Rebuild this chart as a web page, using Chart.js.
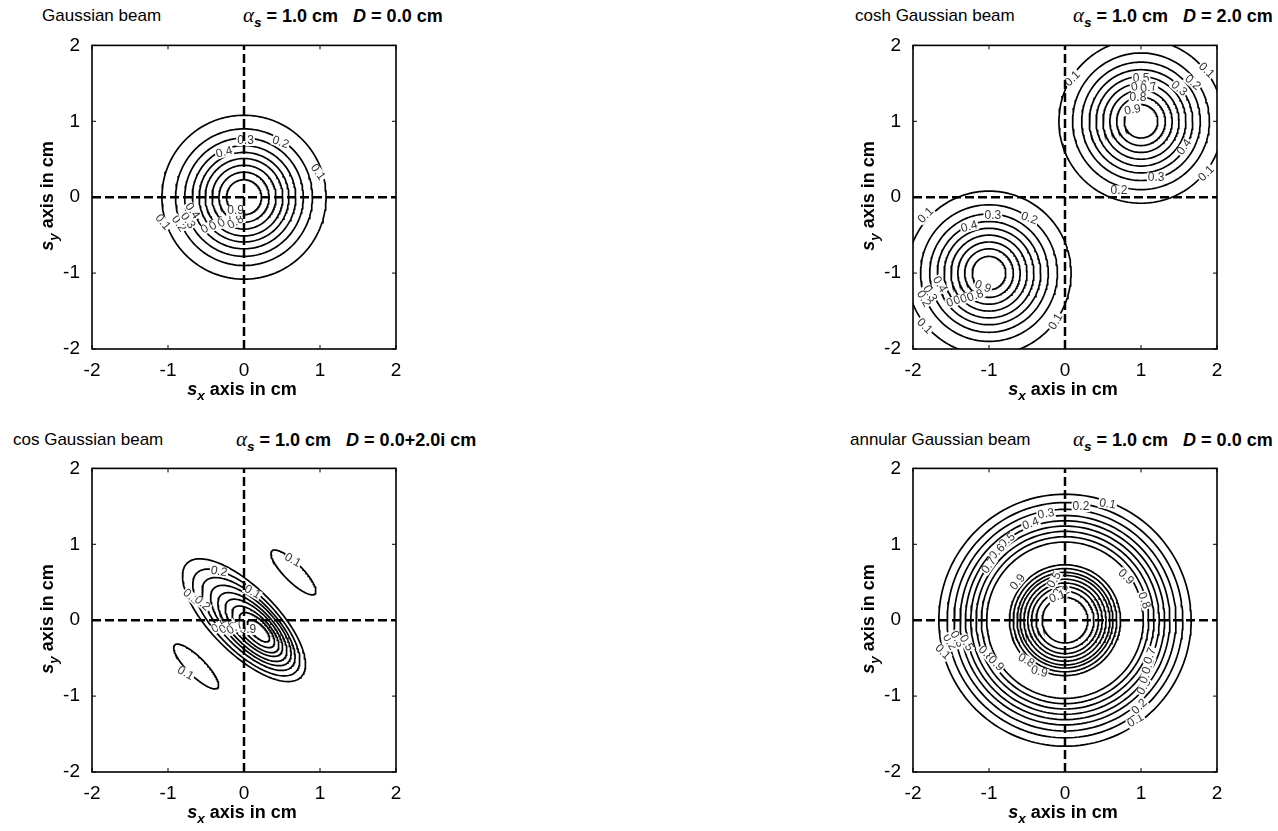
<!DOCTYPE html>
<html>
<head>
<meta charset="utf-8">
<script src="https://cdn.jsdelivr.net/npm/chart.js@4"></script>
<style>
  body { margin: 0; background: #fff; width: 1278px; height: 831px; position: relative; overflow: hidden;
         font-family: "Liberation Sans", Arial, sans-serif; color: #000; }
  canvas { position: absolute; }
  .name { position: absolute; font-size: 17px; line-height: 20px; white-space: nowrap; }
  .par { position: absolute; font-size: 18px; line-height: 20px; font-weight: bold; white-space: nowrap; }
  .par .al { font-family: "Liberation Serif", serif; font-style: italic; font-weight: normal; font-size: 21px; }
  .xlab { position: absolute; width: 304px; text-align: center; font-size: 18px; font-weight: bold; line-height: 20px; white-space: nowrap; }
  .ylab { position: absolute; width: 304px; text-align: center; font-size: 18px; font-weight: bold; line-height: 20px;
          white-space: nowrap; transform: rotate(-90deg); }
  sub { font-size: 75%; vertical-align: -5px; line-height: 0; }
</style>
</head>
<body>

<div class="name" style="left:42px;top:6px">Gaussian beam</div>
<div class="par" style="left:243px;top:5px"><span class="al">α</span><sub><i>s</i></sub> = 1.0 cm &nbsp;&nbsp;<i>D</i> = 0.0 cm</div>
<div class="name" style="left:855px;top:6px">cosh Gaussian beam</div>
<div class="par" style="left:1073px;top:5px"><span class="al">α</span><sub><i>s</i></sub> = 1.0 cm &nbsp;&nbsp;<i>D</i> = 2.0 cm</div>
<div class="name" style="left:13px;top:430px">cos Gaussian beam</div>
<div class="par" style="left:236px;top:429px"><span class="al">α</span><sub><i>s</i></sub> = 1.0 cm &nbsp;&nbsp;<i>D</i> = 0.0+2.0i cm</div>
<div class="name" style="left:850px;top:430px">annular Gaussian beam</div>
<div class="par" style="left:1073px;top:429px"><span class="al">α</span><sub><i>s</i></sub> = 1.0 cm &nbsp;&nbsp;<i>D</i> = 0.0 cm</div>

<canvas id="c1" width="380" height="360" style="left:40px;top:30px"></canvas>
<canvas id="c2" width="380" height="360" style="left:861px;top:30px"></canvas>
<canvas id="c3" width="380" height="360" style="left:40px;top:453px"></canvas>
<canvas id="c4" width="380" height="360" style="left:861px;top:453px"></canvas>

<div class="xlab" style="left:90px;top:379px"><i>s</i><sub><i>x</i></sub> axis in cm</div>
<div class="xlab" style="left:911px;top:379px"><i>s</i><sub><i>x</i></sub> axis in cm</div>
<div class="xlab" style="left:90px;top:802px"><i>s</i><sub><i>x</i></sub> axis in cm</div>
<div class="xlab" style="left:911px;top:802px"><i>s</i><sub><i>x</i></sub> axis in cm</div>
<div class="ylab" style="left:-105px;top:186px"><i>s</i><sub><i>y</i></sub> axis in cm</div>
<div class="ylab" style="left:716px;top:186px"><i>s</i><sub><i>y</i></sub> axis in cm</div>
<div class="ylab" style="left:-105px;top:609px"><i>s</i><sub><i>y</i></sub> axis in cm</div>
<div class="ylab" style="left:716px;top:609px"><i>s</i><sub><i>y</i></sub> axis in cm</div>

<script>
const axisRange = [-2, 2]
const axisTicks = [-2, -1, 0, 1, 2]
const zeroLine = [-2, 2]
const levels = ['0.1', '0.2', '0.3', '0.4', '0.5', '0.6', '0.7', '0.8', '0.9']

// Gaussian beam, circles round the origin (radius per level 0.1 .. 0.9)
const gaussRadii = [1.08, 0.90, 0.78, 0.68, 0.59, 0.51, 0.42, 0.33, 0.23]

// cosh Gaussian, two lobes
const coshCentresX = [1, -1]
const coshCentresY = [1, -1]
const coshRadii = [1.08, 0.90, 0.78, 0.68, 0.59, 0.50, 0.41, 0.32, 0.22]

// cos Gaussian, main lobe ellipses tilted -45 deg
const cosCx = [0.00, 0.03, 0.06, 0.09, 0.11, 0.13, 0.15, 0.17, 0.19]
const cosCy = [0.00, -0.03, -0.05, -0.07, -0.09, -0.10, -0.12, -0.13, -0.14]
const cosA = [1.06, 0.92, 0.80, 0.69, 0.59, 0.49, 0.40, 0.30, 0.19]
const cosB = [0.43, 0.38, 0.33, 0.29, 0.25, 0.21, 0.17, 0.13, 0.08]
// cos Gaussian, the two small 0.1 side lobes
const cosSideX = [0.65, -0.63]
const cosSideY = [0.63, -0.61]
const cosSideA = [0.40, 0.40]
const cosSideB = [0.12, 0.12]

// annular Gaussian, outer and inner rings (level 0.1 .. 0.9)
const annOuterRadii = [1.66, 1.55, 1.46, 1.38, 1.31, 1.24, 1.17, 1.10, 1.03]
const annInnerRadii = [0.30, 0.38, 0.44, 0.49, 0.54, 0.59, 0.63, 0.68, 0.73]

// contour labels: text, x, y, angle (deg)
const gaussLabels = [
    ['0.3', 0.02, 0.74, 0], ['0.2', 0.48, 0.72, 20], ['0.4', -0.26, 0.59, -15], ['0.1', 0.97, 0.33, 55],
    ['0.1', -1.07, -0.33, 50], ['0.2', -0.86, -0.35, 55], ['0.3', -0.74, -0.31, 55], ['0.4', -0.68, -0.18, 55],
    ['0.5', -0.46, -0.39, -30], ['0.6', -0.35, -0.35, -30], ['0.7', -0.24, -0.31, -30], ['0.8', -0.11, -0.33, -30],
    ['0.9', -0.11, -0.18, 0]
]
const coshLabels = [
    ['0.1', 0.10, 1.56, -45], ['0.1', 1.86, 1.67, 45], ['0.2', 1.68, 1.51, 40], ['0.3', 1.50, 1.43, 40],
    ['0.5', 1.00, 1.56, 0], ['0.6', 0.98, 1.46, -10], ['0.7', 1.10, 1.44, -10], ['0.8', 0.96, 1.31, 0],
    ['0.9', 0.89, 1.15, -10], ['0.4', 1.57, 0.66, -55], ['0.3', 1.20, 0.26, 0], ['0.2', 0.71, 0.09, 0],
    ['0.1', 1.86, 0.31, -45],
    ['0.3', -0.95, -0.24, 0], ['0.2', -0.47, -0.28, 20], ['0.1', -1.83, -0.24, -45], ['0.4', -1.26, -0.39, -15],
    ['0.9', -1.08, -1.18, 20], ['0.5', -1.45, -1.37, -20], ['0.6', -1.36, -1.34, -20], ['0.7', -1.27, -1.32, -20],
    ['0.8', -1.18, -1.30, -20], ['0.4', -1.65, -1.15, 60], ['0.3', -1.78, -1.27, 60], ['0.2', -1.86, -1.34, 60],
    ['0.1', -1.85, -1.70, 45], ['0.1', -0.12, -1.64, -60]
]
const cosLabels = [
    ['0.1', 0.64, 0.79, 30], ['0.1', -0.77, -0.70, 30], ['0.2', -0.33, 0.64, 10], ['0.1', 0.11, 0.37, 30],
    ['0.1', -0.70, 0.31, 40], ['0.2', -0.55, 0.22, 40], ['0.9', 0.05, -0.13, 0],
    ['0.5', -0.32, -0.08, -30], ['0.6', -0.22, -0.09, -30], ['0.7', -0.12, -0.10, -30]
]
const annLabels = [
    ['0.1', 0.56, 1.53, 10], ['0.2', 0.21, 1.49, 0], ['0.3', -0.25, 1.40, -10], ['0.4', -0.45, 1.27, -20],
    ['0.5', -0.76, 1.05, -40], ['0.6', -0.89, 0.90, -45], ['0.7', -1.00, 0.72, -55],
    ['0.9', 0.80, 0.57, 45], ['0.8', 1.04, 0.26, 70], ['0.9', -0.62, 0.50, -50],
    ['0.5', -0.14, 0.53, -60], ['0.2', -0.05, 0.37, -20], ['0.1', -0.10, 0.31, -20],
    ['0.1', -1.61, -0.42, 45], ['0.2', -1.52, -0.29, 60], ['0.3', -1.42, -0.25, 60], ['0.5', -1.30, -0.30, 60],
    ['0.8', -1.04, -0.44, 45], ['0.9', -0.91, -0.57, 45], ['0.8', -0.51, -0.53, 30], ['0.9', -0.34, -0.68, 15],
    ['0.1', 0.93, -1.32, -30], ['0.2', 0.98, -1.14, -45], ['0.3', 1.04, -0.88, -60], ['0.4', 1.07, -0.73, -65],
    ['0.5', 1.10, -0.60, -70], ['0.7', 1.12, -0.47, -70]
]

function ellipse(cx, cy, a, b, rot) {
    const pts = []
    const r = rot * Math.PI / 180
    for (let i = 0; i <= 160; i++) {
        const t = i / 160 * 2 * Math.PI
        const u = a * Math.cos(t), v = b * Math.sin(t)
        pts.push({ x: cx + u * Math.cos(r) - v * Math.sin(r), y: cy + u * Math.sin(r) + v * Math.cos(r) })
    }
    return pts
}

function contour(pts) {
    return { data: pts, showLine: true, pointRadius: 0, borderColor: '#000', borderWidth: 1.7, tension: 0 }
}

function zeroLines() {
    return [
        { data: [{ x: 0, y: zeroLine[0] }, { x: 0, y: zeroLine[1] }], showLine: true, pointRadius: 0,
          borderColor: '#000', borderWidth: 2.5, borderDash: [9, 4] },
        { data: [{ x: zeroLine[0], y: 0 }, { x: zeroLine[1], y: 0 }], showLine: true, pointRadius: 0,
          borderColor: '#000', borderWidth: 2.5, borderDash: [9, 4] }
    ]
}

// contour labels with a white patch, drawn just before the dashed axes
const labelPlugin = {
    id: 'clabels',
    beforeDatasetDraw(chart, args, opts) {
        if (args.index !== 1) return
        const ctx = chart.ctx
        const xs = chart.scales.x, ys = chart.scales.y
        ctx.save()
        ctx.font = '12px "Liberation Sans", Arial, sans-serif'
        ctx.textAlign = 'center'
        ctx.textBaseline = 'middle'
        opts.list.forEach(l => {
            const px = xs.getPixelForValue(l[1]), py = ys.getPixelForValue(l[2])
            ctx.save()
            ctx.translate(px, py)
            ctx.rotate(l[3] * Math.PI / 180)
            const w = ctx.measureText(l[0]).width
            ctx.fillStyle = '#fff'
            ctx.fillRect(-w / 2 - 1, -5, w + 2, 10)
            ctx.fillStyle = '#333'
            ctx.fillText(l[0], 0, 0)
            ctx.restore()
        })
        ctx.restore()
    }
}

// box round the axes plus small inward ticks
const framePlugin = {
    id: 'frame',
    afterDraw(chart) {
        const ctx = chart.ctx, a = chart.chartArea
        const xs = chart.scales.x, ys = chart.scales.y
        ctx.save()
        ctx.strokeStyle = '#000'
        ctx.lineWidth = 1.6
        ctx.strokeRect(a.left, a.top, a.right - a.left, a.bottom - a.top)
        ctx.lineWidth = 1
        ctx.beginPath()
        axisTicks.forEach(t => {
            const px = xs.getPixelForValue(t), py = ys.getPixelForValue(t)
            ctx.moveTo(px, a.bottom); ctx.lineTo(px, a.bottom - 4)
            ctx.moveTo(px, a.top); ctx.lineTo(px, a.top + 4)
            ctx.moveTo(a.left, py); ctx.lineTo(a.left + 4, py)
            ctx.moveTo(a.right, py); ctx.lineTo(a.right - 4, py)
        })
        ctx.stroke()
        ctx.restore()
    }
}

function makePanel(id, contours, labels) {
    const tickFont = { size: 19, family: '"Liberation Sans", Arial, sans-serif' }
    new Chart(document.getElementById(id), {
        type: 'scatter',
        data: { datasets: zeroLines().concat(contours) },
        options: {
            responsive: false,
            animation: false,
            events: [],
            layout: { padding: { left: 0, top: 14, right: 24, bottom: 0 } },
            plugins: { legend: { display: false }, tooltip: { enabled: false }, clabels: { list: labels } },
            scales: {
                x: {
                    type: 'linear', min: axisRange[0], max: axisRange[1],
                    ticks: { stepSize: 1, color: '#000', font: tickFont, padding: 2, maxRotation: 0 },
                    grid: { display: false }, border: { display: false },
                    afterFit: s => { s.height = 41 }
                },
                y: {
                    type: 'linear', min: axisRange[0], max: axisRange[1],
                    ticks: { stepSize: 1, color: '#000', font: tickFont, padding: 4 },
                    grid: { display: false }, border: { display: false },
                    afterFit: s => { s.width = 52 }
                }
            }
        },
        plugins: [labelPlugin, framePlugin]
    })
}

// panel 1: Gaussian
makePanel('c1', gaussRadii.map(r => contour(ellipse(0, 0, r, r, 0))), gaussLabels)

// panel 2: cosh Gaussian
const coshSets = []
coshCentresX.forEach((cx, k) => {
    coshRadii.forEach(r => coshSets.push(contour(ellipse(cx, coshCentresY[k], r, r, 0))))
})
makePanel('c2', coshSets, coshLabels)

// panel 3: cos Gaussian
const cosSets = cosA.map((a, i) => contour(ellipse(cosCx[i], cosCy[i], a, cosB[i], -45)))
cosSideX.forEach((cx, k) => cosSets.push(contour(ellipse(cx, cosSideY[k], cosSideA[k], cosSideB[k], -45))))
makePanel('c3', cosSets, cosLabels)

// panel 4: annular Gaussian
const annSets = annOuterRadii.concat(annInnerRadii).map(r => contour(ellipse(0, 0, r, r, 0)))
makePanel('c4', annSets, annLabels)
</script>
</body>
</html>
